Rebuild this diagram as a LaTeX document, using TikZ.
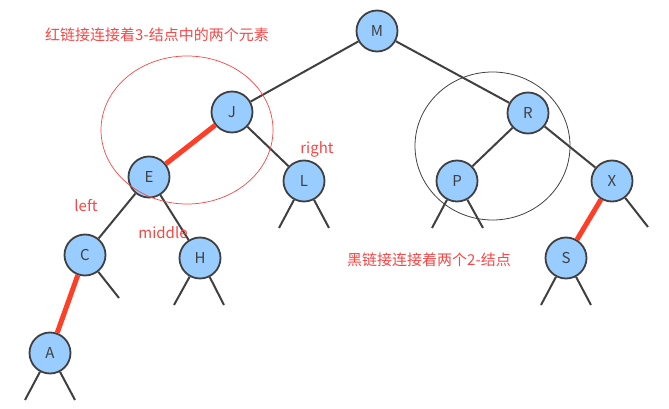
\documentclass[tikz,border=0pt]{standalone}
\usepackage{fontspec}
\setmainfont{Noto Sans CJK SC}
\usepackage{tikz}
\usetikzlibrary{positioning}

\definecolor{nodeblue}{RGB}{153,204,255}
\definecolor{linkgray}{RGB}{64,64,64}
\definecolor{linkred}{RGB}{255,62,40}
\definecolor{notered}{RGB}{248,70,70}

\begin{document}
\begin{tikzpicture}[x=1pt,y=-1pt,
                line width=2pt,
                main node/.style={circle,draw=linkgray,fill=nodeblue,line width=1.8pt,
                  minimum size=41pt,inner sep=0pt,text=linkgray,font=\fontsize{15}{17}\selectfont},
                black link/.style={draw=linkgray,line width=2pt},
                red link/.style={draw=linkred,line width=5pt},
                note/.style={text=notered,font=\fontsize{15}{18}\selectfont,inner sep=0pt}]

        \useasboundingbox (0,0) rectangle (669,409);

        % nodes of the tree
        \node[main node] (M) at (377,31) {M};
        \node[main node] (J) at (232,112) {J};
        \node[main node] (R) at (528,113) {R};
        \node[main node] (E) at (149,177) {E};
        \node[main node] (L) at (304,181) {L};
        \node[main node] (P) at (457,181) {P};
        \node[main node] (X) at (612,181) {X};
        \node[main node] (C) at (85,255) {C};
        \node[main node] (H) at (200,258) {H};
        \node[main node] (S) at (566,258) {S};
        \node[main node] (A) at (50,353) {A};

        % free ends of the empty links
        \coordinate (L1) at (279,228);
        \coordinate (L2) at (329,228);
        \coordinate (P1) at (432,228);
        \coordinate (P2) at (483,228);
        \coordinate (X2) at (648,227);
        \coordinate (C2) at (119,298);
        \coordinate (H1) at (174,305);
        \coordinate (H2) at (224,305);
        \coordinate (S1) at (541,305);
        \coordinate (S2) at (591,305);
        \coordinate (A1) at (25,400);
        \coordinate (A2) at (75,400);

          \path
            (M) edge    [black link]    (J)
                edge    [black link]    (R)
            (J) edge    [red link]      (E)
                edge    [black link]    (L)
            (E) edge    [black link]    (C)
                edge    [black link]    (H)
            (C) edge    [red link]      (A)
                edge    [black link]    (C2)
            (R) edge    [black link]    (P)
                edge    [black link]    (X)
            (X) edge    [red link]      (S)
                edge    [black link]    (X2)
            (L) edge    [black link]    (L1)
                edge    [black link]    (L2)
            (P) edge    [black link]    (P1)
                edge    [black link]    (P2)
            (H) edge    [black link]    (H1)
                edge    [black link]    (H2)
            (S) edge    [black link]    (S1)
                edge    [black link]    (S2)
            (A) edge    [black link]    (A1)
                edge    [black link]    (A2);

        % the two marked groups
        \draw[notered,line width=0.7pt] (187,130) ellipse [x radius=86,y radius=74];
        \draw[linkgray,line width=0.8pt] (492.5,146) ellipse [x radius=77.5,y radius=74];

        % notes
        \node[note] (red note) at (157,35) {红链接连接着3-结点中的两个元素};
        \node[note] (black note) at (429,260) {黑链接连接着两个2-结点};
        \node[note] (left) at (86,206) {left};
        \node[note] (middle) at (163,233) {middle};
        \node[note] (right) at (317,149) {right};
\end{tikzpicture}
\end{document}
